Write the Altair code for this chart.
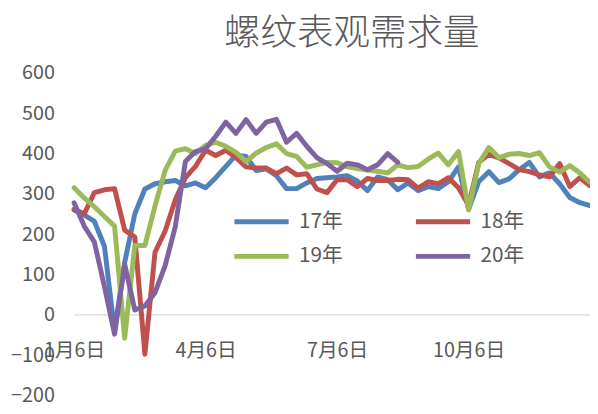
import altair as alt
import pandas as pd

series_names = ["17年", "18年", "19年", "20年"]
colors = ["#4F81BD", "#C0504D", "#9BBB59", "#8064A2"]

s17 = [260, 248, 232, 170, -40, 130, 250, 312, 325, 330, 333, 320, 327, 315, 340, 368,
       396, 393, 358, 362, 345, 313, 313, 327, 338, 340, 342, 345, 332, 308, 342, 335,
       310, 327, 308, 318, 313, 330, 367, 262, 330, 355, 328, 337, 360, 378, 342, 352,
       325, 291, 278, 271]
s18 = [262, 250, 303, 310, 313, 210, 193, -98, 155, 208, 285, 340, 368, 408, 395, 408,
       390, 367, 364, 364, 350, 364, 347, 350, 312, 303, 335, 335, 318, 338, 333, 333,
       336, 335, 314, 330, 325, 340, 315, 272, 378, 398, 389, 375, 360, 355, 347, 342,
       375, 318, 340, 320]
s19 = [315, 290, 268, 244, 220, -58, 172, 172, 270, 358, 406, 412, 400, 420, 428, 418,
       403, 380, 401, 415, 424, 400, 393, 366, 372, 378, 377, 367, 363, 359, 356, 352,
       372, 365, 368, 386, 401, 372, 405, 260, 375, 415, 390, 398, 400, 395, 402, 367,
       354, 370, 352, 328]
s20 = [278, 220, 181, 70, -48, 125, 12, 22, 55, 122, 218, 380, 405, 412, 443, 478,
       450, 484, 450, 478, 485, 428, 450, 418, 390, 375, 356, 376, 372, 360, 372, 400,
       378]

tick_pos = [0, 13, 26, 39]
tick_lab = ["1月6日", "4月6日", "7月6日", "10月6日"]
y_ticks = [-200, -100, 0, 100, 200, 300, 400, 500, 600]

rows = []
for name, vals in zip(series_names, [s17, s18, s19, s20]):
    for i, v in enumerate(vals):
        rows.append({"week": i, "value": v, "series": name})
df = pd.DataFrame(rows)

label_expr = " : ".join(
    f"datum.value == {p} ? '{l}'" for p, l in zip(tick_pos, tick_lab)
) + " : ''"

FONT = "Noto Sans CJK SC"
GREY = "#595959"

x_scale = alt.Scale(domain=[0, 51], nice=False, zero=False)
y_scale = alt.Scale(domain=[-200, 600], nice=False)

zero = alt.Chart(pd.DataFrame({"y": [0]})).mark_rule(
    color="#D9D9D9", strokeWidth=1.2
).encode(y=alt.Y("y:Q", scale=y_scale))

lines = alt.Chart(df).mark_line(
    strokeWidth=5, strokeJoin="round", strokeCap="round"
).encode(
    x=alt.X("week:Q", scale=x_scale, axis=alt.Axis(
        values=tick_pos, labelExpr=label_expr, title=None, domain=False,
        ticks=False, tickSize=0, grid=False, offset=-81, labelPadding=26,
        labelFontSize=20, labelColor=GREY, labelFont=FONT,
        labelOverlap=False, labelBound=False, labelFlush=False)),
    y=alt.Y("value:Q", scale=y_scale, axis=alt.Axis(
        values=y_ticks, title=None, domain=False, ticks=False, grid=False,
        labelPadding=20, labelFontSize=20, labelColor=GREY, labelFont=FONT)),
    color=alt.Color("series:N", scale=alt.Scale(domain=series_names, range=colors),
                    legend=alt.Legend(
                        title=None, orient="none", legendX=178, legendY=139,
                        columns=2, direction="horizontal",
                        symbolType="M-3,0H3", symbolSize=336,
                        symbolStrokeWidth=5, labelFontSize=21, labelColor=GREY,
                        labelFont=FONT, columnPadding=63, rowPadding=13,
                        labelOffset=26, padding=0)),
    order=alt.Order("week:Q"),
)

chart = alt.layer(zero, lines).properties(
    width=523, height=327,
    padding={"left": 67, "top": 63, "right": 0, "bottom": 14},
    autosize="none",
    title=alt.Title("螺纹表观需求量", fontSize=37, font=FONT, color=GREY,
                    fontWeight=300, anchor="middle", dx=20, offset=10),
).configure_view(stroke=None)

chart.save("out.html", embed_options={"renderer": "svg", "actions": False})
